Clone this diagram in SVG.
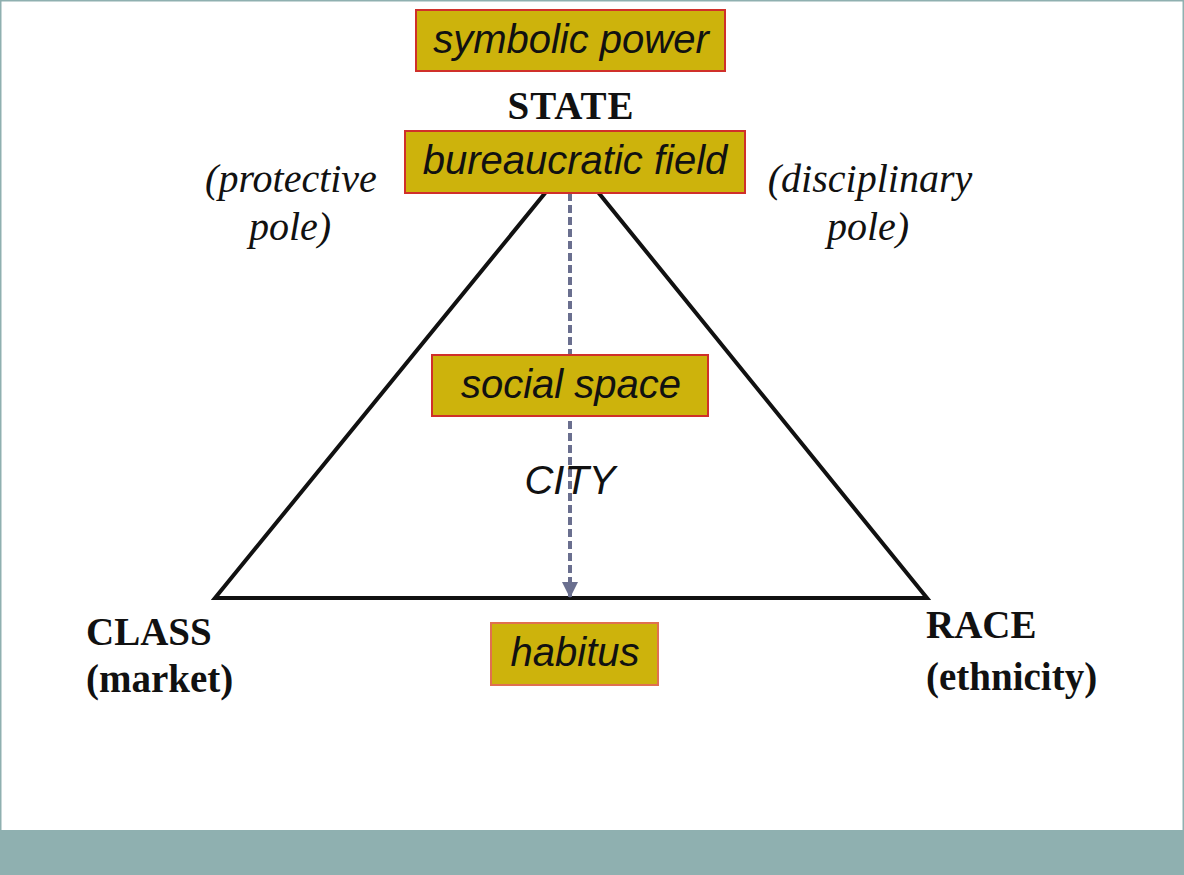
<svg xmlns="http://www.w3.org/2000/svg" width="1184" height="875" viewBox="0 0 1184 875">
<style>
.box{fill:#cdb30c;stroke:#d0302a;stroke-width:2}
.bt{font-family:"Liberation Sans",Arial,sans-serif;font-style:italic;font-size:40px;fill:#111;text-anchor:middle}
.ser{font-family:"Liberation Serif","Times New Roman",serif;font-size:39px;fill:#111}
.b{font-weight:bold}
.i{font-style:italic;font-size:40px}
</style>
<defs><marker id="ah" markerWidth="16" markerHeight="16" refX="16" refY="8" orient="auto" markerUnits="userSpaceOnUse" viewBox="0 0 16 16"><path d="M0,0 L16,8 L0,16 Z" fill="#6a6f8f"/></marker></defs>
<rect x="0.5" y="0.5" width="1183" height="874" fill="#fff" stroke="#8fb0b0" stroke-width="2"/>
<rect x="0" y="830" width="1184" height="45" fill="#8fb0b0"/>
<g id="connectors">
<path d="M572,160 L215,598 L927,598 Z" fill="none" stroke="#111" stroke-width="4" stroke-linejoin="miter"/>
<line x1="570" y1="193" x2="570" y2="598" stroke="#6a6f8f" stroke-width="4" stroke-dasharray="8,4" marker-end="url(#ah)"/>
</g>
<g id="symbolic"><rect class="box" x="416" y="10" width="309" height="61"/><text class="bt" x="571" y="53">symbolic power</text></g>
<g id="state"><text class="ser b" x="571" y="119" text-anchor="middle" style="letter-spacing:1px">STATE</text></g>
<g id="bureau"><rect class="box" x="405" y="131" width="340" height="62"/><text class="bt" x="575" y="174">bureaucratic field</text></g>
<g id="protective"><text class="ser i" x="291" y="192" text-anchor="middle">(protective</text><text class="ser i" x="290" y="240" text-anchor="middle">pole)</text></g>
<g id="disciplinary"><text class="ser i" x="870" y="192" text-anchor="middle">(disciplinary</text><text class="ser i" x="868" y="240" text-anchor="middle">pole)</text></g>
<g id="social"><rect class="box" x="432" y="355" width="276" height="61"/><text class="bt" x="571" y="398">social space</text></g>
<g id="city"><text class="bt" x="570" y="494">CITY</text></g>
<g id="habitus"><rect class="box" x="491" y="623" width="167" height="62" style="stroke:#e07050"/><text class="bt" x="575" y="666">habitus</text></g>
<g id="class"><text class="ser b" x="86" y="645">CLASS</text><text class="ser b" x="86" y="692">(market)</text></g>
<g id="race"><text class="ser b" x="926" y="638">RACE</text><text class="ser b" x="926" y="690">(ethnicity)</text></g>
</svg>
